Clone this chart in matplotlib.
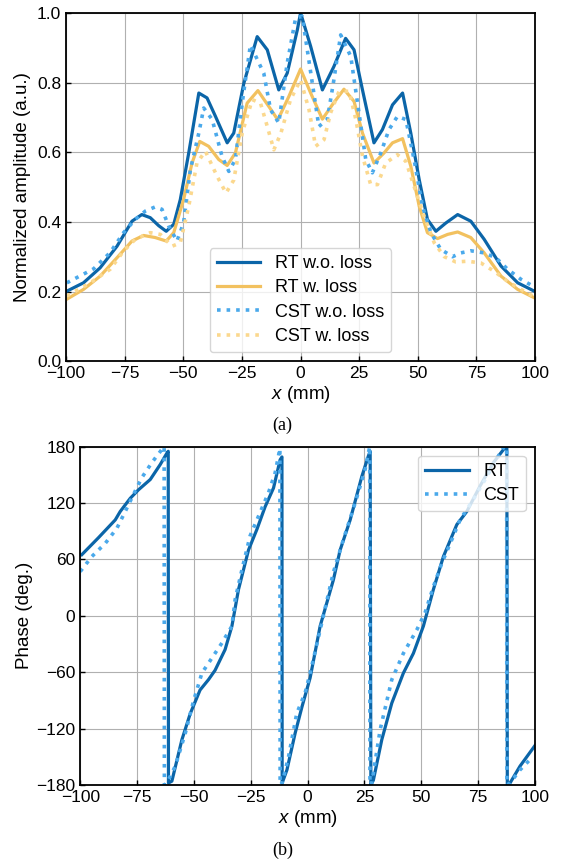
import numpy as np
import matplotlib
matplotlib.use('Agg')
from matplotlib import pyplot as plt

plt.rcParams['font.family'] = ['Liberation Sans', 'DejaVu Sans']
plt.rcParams['mathtext.fontset'] = 'custom'
plt.rcParams['mathtext.it'] = 'Liberation Sans:italic'
plt.rcParams['mathtext.rm'] = 'Liberation Sans'

######################################################################################################################
# Data
######################################################################################################################

# amplitude, RT without loss
x_rt = [-99.7, -92.6, -85.5, -78.3, -71.9, -67.7, -64.1, -60.5, -57.3, -54.1, -51.3, -47.7, -43.4, -39.9,
        -36.3, -31.3, -28.5, -24.2, -18.5, -14.2, -9.3, -5.7, -1.4, 0,
        4.3, 9.3, 14.2, 19.2, 22.8, 26.4, 31.3, 34.9, 39.2, 43.5, 47.0, 50.6, 54.1, 57.7, 62.0, 67.0,
        72.6, 78.3, 85.5, 92.6, 99.7]
amp_rt = [0.201, 0.225, 0.268, 0.330, 0.402, 0.421, 0.412, 0.389, 0.373, 0.393, 0.464, 0.598, 0.770, 0.756,
          0.703, 0.627, 0.655, 0.798, 0.932, 0.894, 0.779, 0.827, 0.951, 1.0,
          0.904, 0.779, 0.846, 0.927, 0.894, 0.779, 0.627, 0.665, 0.736, 0.770, 0.655, 0.521, 0.407, 0.373,
          0.397, 0.421, 0.402, 0.350, 0.273, 0.225, 0.201]

# amplitude, RT with loss
x_rt_loss = [-99.7, -92.6, -85.5, -78.3, -71.9, -67.0, -62.0, -57.3, -54.1, -49.9, -46.3, -43.0, -39.2,
             -34.9, -31.3, -27.8, -22.8, -18.2, -13.5, -9.7, -5.0, 0,
             4.3, 9.3, 13.5, 18.5, 22.8, 26.4, 31.3, 35.6, 39.2, 43.5, 47.0, 50.6, 54.1, 58.4, 62.7, 67.0,
             72.6, 78.3, 85.5, 92.6, 99.7]
amp_rt_loss = [0.178, 0.206, 0.244, 0.297, 0.345, 0.361, 0.355, 0.345, 0.369, 0.464, 0.569, 0.631, 0.617,
               0.579, 0.562, 0.598, 0.741, 0.777, 0.731, 0.693, 0.760, 0.839,
               0.770, 0.695, 0.736, 0.781, 0.746, 0.655, 0.569, 0.598, 0.627, 0.639, 0.560, 0.445, 0.369,
               0.352, 0.364, 0.371, 0.355, 0.311, 0.244, 0.206, 0.182]

# amplitude, CST without loss
x_cst = [-99.7, -88.3, -81.2, -75.5, -70.5, -66.2, -62.0, -59.1, -56.3, -52.7, -49.9, -47.0, -43.4, -41.3,
         -37.7, -33.5, -30.6, -27.8, -24.9, -21.4, -15.7, -12.8, -9.3, -5.7, -2.1, 0.7,
         4.3, 7.8, 11.4, 14.2, 17.1, 21.4, 24.3, 27.8, 30.6, 34.2, 37.7, 41.3, 44.9, 48.4, 52.0, 55.6,
         59.8, 64.8, 68.4, 72.6, 78.3, 83.3, 88.3, 94.0, 99.0]
amp_cst = [0.225, 0.265, 0.312, 0.369, 0.407, 0.431, 0.443, 0.436, 0.389, 0.345, 0.397, 0.550, 0.655, 0.727,
           0.694, 0.588, 0.545, 0.579, 0.741, 0.908, 0.827, 0.722, 0.684, 0.856, 0.986, 0.99,
           0.830, 0.674, 0.694, 0.808, 0.937, 0.875, 0.741, 0.579, 0.541, 0.598, 0.665, 0.703, 0.694, 0.579,
           0.445, 0.369, 0.321, 0.300, 0.311, 0.317, 0.311, 0.297, 0.264, 0.235, 0.216]

# amplitude, CST with loss
x_cst_loss = [-99.7, -89.7, -81.2, -75.5, -70.5, -64.1, -59.8, -54.8, -51.3, -47.7, -44.2, -40.6, -35.6,
              -31.8, -28.5, -24.9, -20.6, -17.1, -14.2, -11.4, -8.4, -4.3, 0,
              3.6, 6.4, 10.0, 12.8, 16.4, 20.7, 23.6, 26.4, 29.9, 32.8, 36.3, 41.3, 44.9, 48.4, 52.7, 57.0,
              61.3, 66.2, 71.2, 76.9, 82.6, 88.3, 94.0, 99.0]
amp_cst_loss = [0.187, 0.225, 0.264, 0.316, 0.350, 0.369, 0.364, 0.330, 0.340, 0.445, 0.569, 0.603, 0.531,
                0.483, 0.520, 0.655, 0.751, 0.741, 0.674, 0.607, 0.655, 0.751, 0.808,
                0.722, 0.617, 0.636, 0.713, 0.775, 0.775, 0.693, 0.589, 0.507, 0.507, 0.569, 0.593, 0.574,
                0.502, 0.416, 0.340, 0.300, 0.285, 0.287, 0.282, 0.258, 0.229, 0.206, 0.187]

# phase, RT (wrapped to +-180)
x_ph_rt = [-99.3, -92.0, -84.6, -82.4, -78.0, -74.4, -69.2, -64.8, -61.9, -61.3, -61.2, -59.7, -55.3, -51.6,
           -47.3, -43.6, -40.7, -36.3, -33.3, -30.4, -26.0, -22.3, -18.7, -15.0, -12.1, -11.3, -11.2,
           -9.1, -5.5, -2.5, 1.1, 5.5, 11.3, 14.3, 18.7, 23.8, 26.7, 27.5, 27.8,
           28.9, 32.6, 37.0, 42.1, 46.5, 50.9, 55.3, 59.7, 65.6, 70.0, 75.8, 81.7, 86.8, 87.6, 87.8,
           89.0, 93.4, 98.5, 100]
ph_rt = [65, 83, 102, 111, 125, 134, 145, 161, 173, 175, -178, -176, -132, -104,
         -79, -68, -58, -36, -11, 28, 70, 92, 116, 136, 166, 169, -178,
         -164, -125, -97, -66, -11, 38, 70, 102, 148, 170, 175, -180,
         -175, -132, -93, -61, -40, -11, 28, 63, 97, 111, 138, 163, 179, 178, -180,
         -178, -160, -143, -138]

# phase, CST
x_ph_cst = [-100, -94.9, -89.0, -83.9, -80.2, -76.6, -72.9, -68.5, -64.1, -63.1, -63.0, -61.9, -58.2, -53.8,
            -50.2, -46.5, -42.1, -37.7, -33.3, -31.9, -28.9, -25.3, -21.6, -17.2, -14.3, -12.2, -12.1,
            -11.2, -8.4, -4.8, -1.1, 1.1, 5.5, 11.3, 15.7, 20.9, 25.3, 27.3, 27.4,
            28.2, 31.9, 37.0, 42.1, 48.0, 51.6, 55.3, 59.0, 63.4, 67.0, 72.9, 78.8, 84.6, 86.4, 87.5, 87.6,
            89.0, 93.4, 97.8]
ph_cst = [47, 63, 77, 93, 111, 129, 147, 163, 177, 180, -180, -178, -160, -125,
          -91, -61, -45, -29, -11, 17, 49, 85, 106, 131, 152, 178, -180,
          -178, -150, -104, -82, -61, -15, 46, 81, 120, 156, 180, -180,
          -178, -121, -68, -40, -15, 3, 31, 56, 81, 102, 124, 148, 173, 180, 180, -180,
          -178, -164, -153]

amp_xticks = [-100, -75, -50, -25, 0, 25, 50, 75, 100]
amp_yticks = [0.0, 0.2, 0.4, 0.6, 0.8, 1.0]
ph_yticks = [-180, -120, -60, 0, 60, 120, 180]

######################################################################################################################
# Plot
######################################################################################################################

c_dark = '#0b65a8'
c_orange = '#f2c15f'
c_light = '#4aa9eb'
c_yellow = '#fbd88e'

def style_axes(ax):
    ax.grid(True, color='#b0b0b0', linewidth=0.8)
    ax.set_axisbelow(True)
    ax.tick_params(direction='in', length=3.5, width=1.0, labelsize=12.5)
    for s in ax.spines.values():
        s.set_linewidth(1.3)

fig = plt.figure(figsize=(5.65, 8.63), dpi=100)

ax1 = fig.add_axes([0.117, 0.5815, 0.830, 0.4035])
ax1.plot(x_rt, amp_rt, '-', color=c_dark, lw=2.3, label='RT w.o. loss')
ax1.plot(x_rt_loss, amp_rt_loss, '-', color=c_orange, lw=2.3, label='RT w. loss')
ax1.plot(x_cst, amp_cst, ':', color=c_light, lw=2.6, label='CST w.o. loss')
ax1.plot(x_cst_loss, amp_cst_loss, ':', color=c_yellow, lw=2.6, label='CST w. loss')
ax1.set_xlim(-100, 100)
ax1.set_ylim(0, 1.0)
ax1.set_xticks(amp_xticks)
ax1.set_yticks(amp_yticks)
ax1.set_xlabel(r'$x$ (mm)', fontsize=13.5, labelpad=2)
ax1.set_ylabel('Normalized amplitude (a.u.)', fontsize=13.5, labelpad=4)
style_axes(ax1)
ax1.legend(loc='lower center', fontsize=13, framealpha=0.8, edgecolor='#cccccc', handlelength=2.4,
           borderpad=0.4, labelspacing=0.4, bbox_to_anchor=(0.5, 0.0))
fig.text(0.5, 1 - 425 / 863, '(a)', ha='center', va='center', fontsize=13, family='Liberation Serif')

ax2 = fig.add_axes([0.142, 0.0905, 0.805, 0.392])
ax2.plot(x_ph_rt, ph_rt, '-', color=c_dark, lw=2.3, label='RT')
ax2.plot(x_ph_cst, ph_cst, ':', color=c_light, lw=2.6, label='CST')
ax2.set_xlim(-100, 100)
ax2.set_ylim(-180, 180)
ax2.set_xticks(amp_xticks)
ax2.set_yticks(ph_yticks)
ax2.set_xlabel(r'$x$ (mm)', fontsize=13.5, labelpad=2)
ax2.set_ylabel('Phase (deg.)', fontsize=13.5, labelpad=2)
style_axes(ax2)
ax2.legend(loc='upper right', fontsize=13, framealpha=0.8, edgecolor='#cccccc', handlelength=2.4,
           borderpad=0.4, labelspacing=0.4)
fig.text(0.5, 1 - 850 / 863, '(b)', ha='center', va='center', fontsize=13, family='Liberation Serif')

fig.savefig('out.png', dpi=100)
